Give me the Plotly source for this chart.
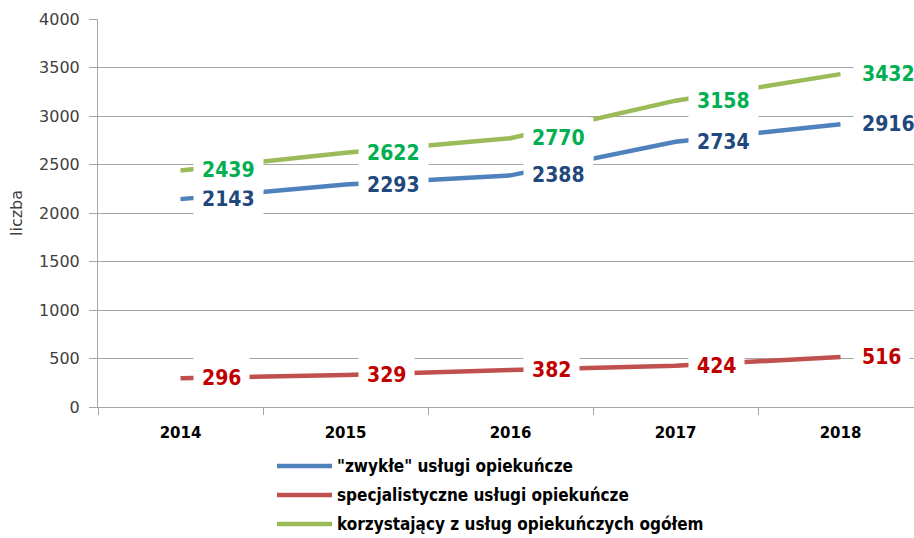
import plotly.graph_objects as go

# Liczba osób korzystających z usług opiekuńczych, 2014-2018
years = ["2014", "2015", "2016", "2017", "2018"]

series_names = [
    "\"zwykłe\" usługi opiekuńcze",
    "specjalistyczne usługi opiekuńcze",
    "korzystający z usług opiekuńczych ogółem",
]
zwykle = [2143, 2293, 2388, 2734, 2916]
specjalistyczne = [296, 329, 382, 424, 516]
ogolem = [2439, 2622, 2770, 3158, 3432]

line_colors = ["#4F81BD", "#C0504D", "#9BBB59"]
label_colors = ["#1F497D", "#C00000", "#00B050"]

values = [zwykle, specjalistyczne, ogolem]

W, H = 914, 538
M_L, M_R, M_T, M_B = 98, 0, 19, 131
plot_w = W - M_L - M_R
plot_h = H - M_T - M_B
cat_w = 165.0

fig = go.Figure()

for name, vals, col in zip(series_names, values, line_colors):
    fig.add_trace(go.Scatter(
        x=years, y=vals, name=name, mode="lines",
        line=dict(color=col, width=4.5),
        showlegend=False, hoverinfo="x+y+name",
    ))

# value labels on white boxes to the right of each point
annotations = []
for vals, lcol in zip(values, label_colors):
    for i, v in enumerate(vals):
        annotations.append(dict(
            x=i, y=v, xref="x", yref="y",
            text=f"<b>{v}</b>", showarrow=False,
            xanchor="left", yanchor="middle", xshift=12,
            bgcolor="white", borderpad=8,
            font=dict(family="DejaVu Sans Condensed", size=21, color=lcol),
        ))

# legend drawn below the axis
def px_x(p):
    return (p - M_L) / plot_w

def px_y(p):
    return (M_T + plot_h - p) / plot_h

shapes = []
legend_rows = [466, 495, 524]
for name, col, row in zip(series_names, line_colors, legend_rows):
    shapes.append(dict(
        type="line", xref="paper", yref="paper",
        x0=px_x(277), x1=px_x(332), y0=px_y(row), y1=px_y(row),
        line=dict(color=col, width=4.5),
    ))
    annotations.append(dict(
        x=px_x(335), y=px_y(row), xref="paper", yref="paper",
        text=f"<b>{name}</b>", showarrow=False,
        xanchor="left", yanchor="middle",
        font=dict(family="DejaVu Sans Condensed", size=17, color="#000000"),
    ))

fig.update_layout(
    width=W, height=H,
    margin=dict(l=M_L, r=M_R, t=M_T, b=M_B, pad=0),
    paper_bgcolor="white", plot_bgcolor="white",
    showlegend=False,
    annotations=annotations,
    shapes=shapes,
    xaxis=dict(
        type="category",
        range=[-0.5, plot_w / cat_w - 0.5],
        tickson="boundaries",
        ticks="outside", ticklen=7, tickcolor="#A6A6A6", tickwidth=1,
        showline=True, linecolor="#A6A6A6", linewidth=1,
        showgrid=False, zeroline=False,
        tickfont=dict(family="DejaVu Sans", size=15, color="#000000", weight="bold"),
        ticklabelstandoff=12,
        automargin=False,
    ),
    yaxis=dict(
        range=[0, 4000], tickvals=[0, 500, 1000, 1500, 2000, 2500, 3000, 3500, 4000],
        ticks="outside", ticklen=8, tickcolor="#A6A6A6", tickwidth=1,
        showline=True, linecolor="#A6A6A6", linewidth=1,
        showgrid=True, gridcolor="#A6A6A6", gridwidth=1,
        zeroline=False,
        tickfont=dict(family="DejaVu Sans", size=16, color="#404040"),
        ticklabelstandoff=6,
        title=dict(text="liczba", standoff=12,
                   font=dict(family="DejaVu Sans", size=16, color="#404040")),
        automargin=False,
    ),
)

fig.write_html("out.html")
